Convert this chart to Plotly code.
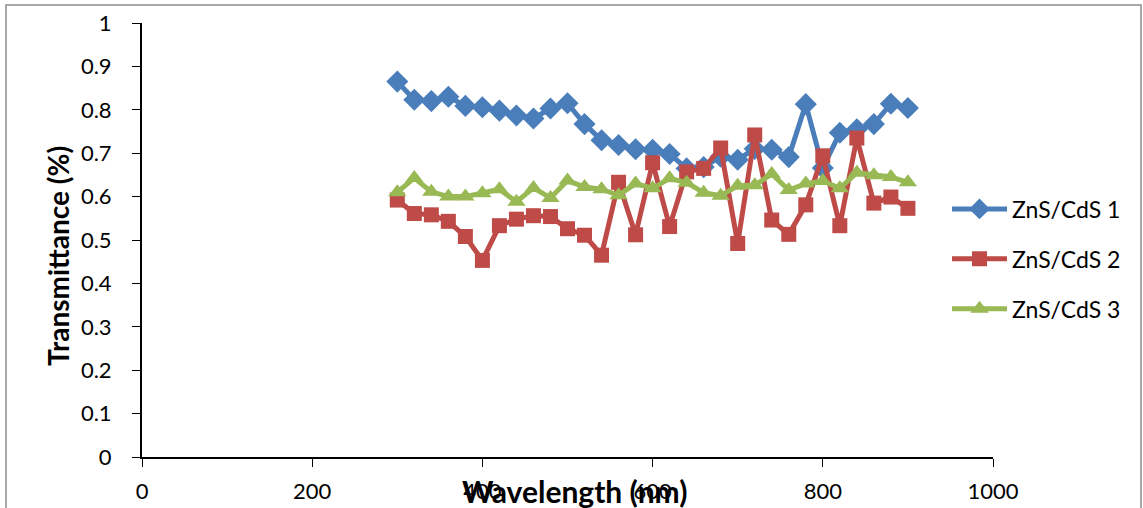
import plotly.graph_objects as go

wavelength = list(range(300, 901, 20))

zns_cds_1 = [0.865, 0.823, 0.820, 0.830, 0.809, 0.806, 0.798, 0.787, 0.780, 0.803,
             0.815, 0.767, 0.730, 0.719, 0.709, 0.708, 0.698, 0.665, 0.668, 0.692,
             0.685, 0.710, 0.708, 0.691, 0.813, 0.666, 0.747, 0.755, 0.767, 0.814,
             0.804]
zns_cds_2 = [0.592, 0.561, 0.558, 0.543, 0.508, 0.453, 0.533, 0.548, 0.556, 0.554,
             0.526, 0.511, 0.465, 0.633, 0.512, 0.678, 0.531, 0.657, 0.665, 0.712,
             0.492, 0.742, 0.546, 0.513, 0.581, 0.694, 0.533, 0.735, 0.585, 0.599,
             0.573]
zns_cds_3 = [0.610, 0.643, 0.611, 0.600, 0.600, 0.608, 0.617, 0.588, 0.620, 0.597,
             0.637, 0.622, 0.617, 0.603, 0.630, 0.619, 0.642, 0.632, 0.609, 0.602,
             0.625, 0.626, 0.652, 0.615, 0.630, 0.636, 0.619, 0.655, 0.649, 0.645,
             0.633]

series = [
    ("ZnS/CdS 1", zns_cds_1, "#4A7EBB", "diamond", 17),
    ("ZnS/CdS 2", zns_cds_2, "#BE4B48", "square", 15),
    ("ZnS/CdS 3", zns_cds_3, "#98B954", "triangle-up", 16),
]

FONT = "Lato, 'Open Sans', sans-serif"
L, R, T, B = 142, 150, 23, 51
PW, PH = 1143 - L - R, 508 - T - B

fig = go.Figure()
for i, (name, vals, color, sym, size) in enumerate(series):
    fig.add_trace(go.Scatter(
        x=wavelength, y=vals, name=name, mode="lines+markers",
        line=dict(color=color, width=5),
        marker=dict(symbol=sym, size=size, color=color, line=dict(width=0)),
        legendgroup=f"g{i}",
    ))

fig.update_layout(
    width=1143, height=508,
    margin=dict(l=L, r=R, t=T, b=B, autoexpand=False),
    paper_bgcolor="white", plot_bgcolor="white",
    font=dict(family=FONT, color="black", size=22),
    showlegend=True,
    legend=dict(x=(947 - L) / PW, y=(457 - 259) / PH, xanchor="left", yanchor="middle",
                font=dict(size=23, family=FONT), tracegroupgap=17,
                bgcolor="rgba(0,0,0,0)", itemwidth=55),
    xaxis=dict(range=[0, 1000], tickvals=[0, 200, 400, 600, 800, 1000],
               showgrid=False, zeroline=False, showline=True, linecolor="black",
               linewidth=2, ticks="outside", ticklen=8, tickcolor="black",
               tickfont=dict(size=22), ticklabelstandoff=6, automargin=False),
    yaxis=dict(range=[0, 1], tickvals=[0, 0.1, 0.2, 0.3, 0.4, 0.5, 0.6, 0.7, 0.8, 0.9, 1],
               ticktext=["0", "0.1", "0.2", "0.3", "0.4", "0.5", "0.6", "0.7", "0.8", "0.9", "1"],
               showgrid=False, zeroline=False, showline=True, linecolor="black",
               linewidth=2, ticks="outside", ticklen=8, tickcolor="black",
               tickfont=dict(size=22), ticklabelstandoff=16, automargin=False),
    annotations=[
        dict(text="<b>Wavelength (nm)</b>", xref="paper", yref="paper",
             x=(574 - L) / PW, y=(457 - 491) / PH, xanchor="center", yanchor="middle",
             showarrow=False, font=dict(size=30, family=FONT)),
        dict(text="<b>Transmittance (%)</b>", xref="paper", yref="paper",
             x=(58 - L) / PW, y=(457 - 256) / PH, xanchor="center", yanchor="middle",
             textangle=-90, showarrow=False, font=dict(size=28, family=FONT)),
    ],
    shapes=[dict(type="rect", xref="paper", yref="paper",
                 x0=(6 - L) / PW, x1=(1141 - L) / PW,
                 y0=(457 - 520) / PH, y1=(457 - 5) / PH,
                 line=dict(color="#8c8c8c", width=1.5), fillcolor="rgba(0,0,0,0)", layer="below")],
)

fig.write_html("out.html")
